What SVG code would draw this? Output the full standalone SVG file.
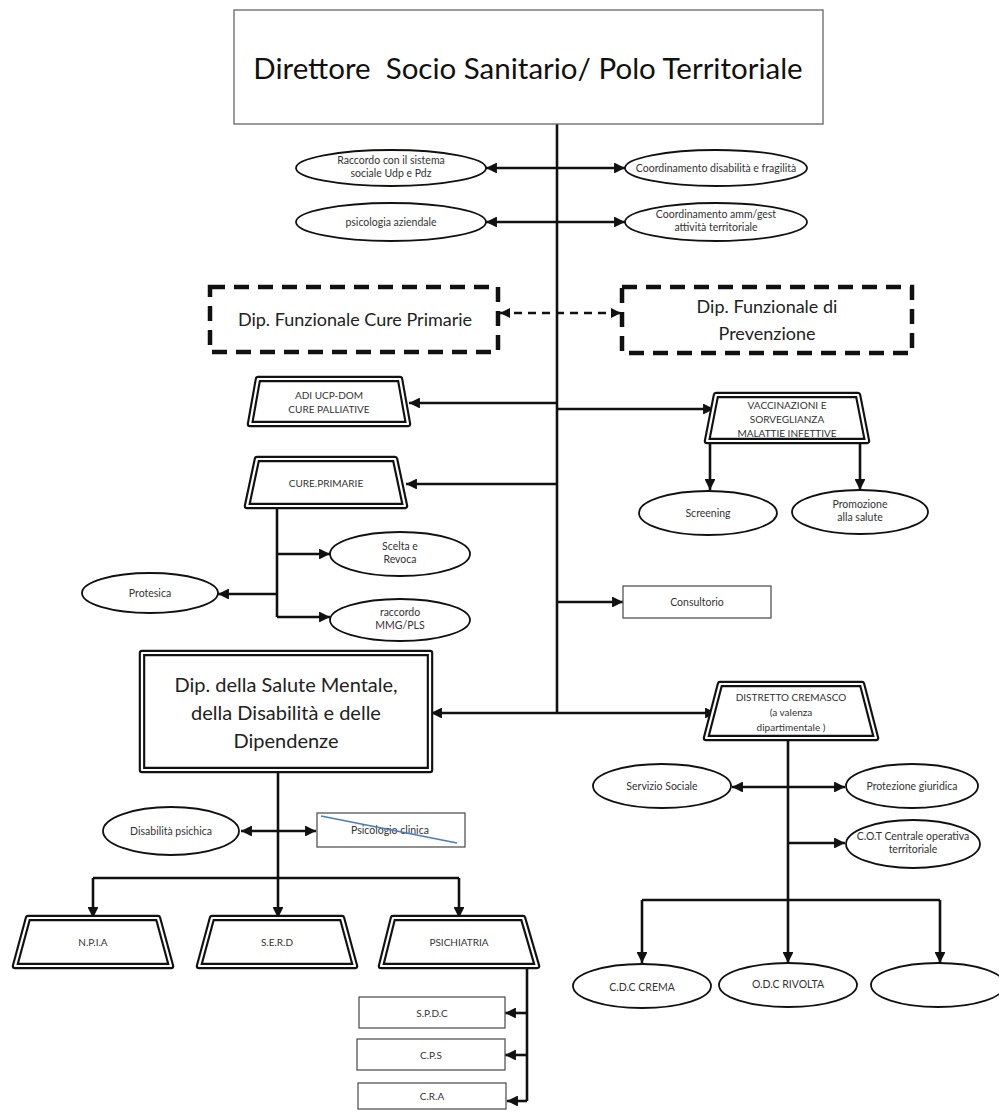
<svg xmlns="http://www.w3.org/2000/svg" width="999" height="1112" viewBox="0 0 999 1112">
<style>
text{font-family:Lato,"Open Sans","Liberation Sans",sans-serif;fill:#333;text-anchor:middle}
.t{font-size:29.5px;fill:#111;white-space:pre}
.s{font-size:10.5px}
.m{font-size:18px;fill:#222}
.l{font-size:20px;fill:#222}
.u{font-size:10px}
.el{fill:#fff;stroke:#111;stroke-width:1.8}
.bx{fill:#fff;stroke:#555;stroke-width:1.3}
.dash{fill:#fff;stroke:#111;stroke-width:4.5;stroke-dasharray:15 9}
.dblo{fill:#fff;stroke:#111;stroke-width:6.5;stroke-linejoin:round}
.dbli{fill:none;stroke:#fff;stroke-width:2.2;stroke-linejoin:round}
.c{fill:none;stroke:#111;stroke-width:2.6}
.cd{fill:none;stroke:#111;stroke-width:2.4;stroke-dasharray:8 6}
.ah{marker-end:url(#ah)}
.bi{marker-start:url(#ah);marker-end:url(#ah)}
</style>
<defs>
<marker id="ah" viewBox="0 0 10 10" refX="10" refY="5" markerWidth="4.2" markerHeight="4.2" orient="auto-start-reverse" markerUnits="strokeWidth"><path d="M0,0 L10,5 L0,10 z" fill="#111"/></marker>
</defs>

<g id="connectors">
<path class="c" d="M557,124 V713"/>
<path class="c bi" d="M486,168 H625"/>
<path class="c bi" d="M486,222 H625"/>
<path class="cd bi" d="M500,313 H621"/>
<path class="c ah" d="M557,403 H409"/>
<path class="c ah" d="M557,409 H714"/>
<path class="c ah" d="M710,441 V490"/>
<path class="c ah" d="M860,441 V490"/>
<path class="c ah" d="M557,484 H406"/>
<path class="c" d="M277,506 V617"/>
<path class="c ah" d="M277,554 H330"/>
<path class="c ah" d="M277,594 H218"/>
<path class="c ah" d="M277,617 H330"/>
<path class="c ah" d="M557,602 H623"/>
<path class="c ah" d="M557,713 H431"/>
<path class="c ah" d="M557,713 H716"/>
<path class="c ah" d="M278,770 V918"/>
<path class="c bi" d="M241,831 H316"/>
<path class="c" d="M93,878 H459"/>
<path class="c ah" d="M93,878 V918"/>
<path class="c ah" d="M459,878 V918"/>
<path class="c" d="M527,966 V1101"/>
<path class="c ah" d="M527,1013 H505"/>
<path class="c ah" d="M527,1055 H505"/>
<path class="c ah" d="M527,1101 H507"/>
<path class="c ah" d="M788,738 V963"/>
<path class="c bi" d="M732,787 H845"/>
<path class="c ah" d="M788,843 H845"/>
<path class="c" d="M642,900 H940"/>
<path class="c ah" d="M642,900 V963"/>
<path class="c ah" d="M940,900 V963"/>
</g>

<g id="n-direttore">
<rect x="234" y="10" width="589" height="114" fill="#fff" stroke="#666" stroke-width="1.3"/>
<text class="t" x="528" y="79" xml:space="preserve">Direttore  Socio Sanitario/ Polo Territoriale</text>
</g>

<g id="n-raccordo-sociale">
<ellipse class="el" cx="391" cy="168" rx="95" ry="18"/>
<text class="s" x="391" y="164">Raccordo con il sistema</text>
<text class="s" x="391" y="177">sociale Udp e Pdz</text>
</g>
<g id="n-coord-disabilita">
<ellipse class="el" cx="716" cy="168" rx="91" ry="18"/>
<text class="s" x="716" y="172">Coordinamento disabilità e fragilità</text>
</g>
<g id="n-psicologia-aziendale">
<ellipse class="el" cx="391" cy="222" rx="95" ry="19"/>
<text class="s" x="391" y="226">psicologia aziendale</text>
</g>
<g id="n-coord-amm">
<ellipse class="el" cx="716" cy="222" rx="91" ry="19"/>
<text class="s" x="716" y="218">Coordinamento amm/gest</text>
<text class="s" x="716" y="231">attività territoriale</text>
</g>

<g id="n-dip-cure-primarie">
<rect class="dash" x="210" y="287" width="288" height="65"/>
<text class="m" x="355" y="326">Dip. Funzionale Cure Primarie</text>
</g>
<g id="n-dip-prevenzione">
<rect class="dash" x="622" y="287" width="290" height="66"/>
<text class="m" x="767" y="313">Dip. Funzionale di</text>
<text class="m" x="767" y="340">Prevenzione</text>
</g>

<g id="n-adi">
<polygon class="dblo" points="258,379 400,379 408,424 250,424"/>
<polygon class="dbli" points="258,379 400,379 408,424 250,424"/>
<text class="u" x="329" y="399">ADI UCP-DOM</text>
<text class="u" x="329" y="413">CURE PALLIATIVE</text>
</g>
<g id="n-vaccinazioni">
<polygon class="dblo" points="716,395 858,395 867,441 707,441"/>
<polygon class="dbli" points="716,395 858,395 867,441 707,441"/>
<text class="u" x="787" y="409">VACCINAZIONI E</text>
<text class="u" x="787" y="423">SORVEGLIANZA</text>
<text class="u" x="787" y="437">MALATTIE INFETTIVE</text>
</g>
<g id="n-screening">
<ellipse class="el" cx="708" cy="513" rx="69" ry="22"/>
<text class="s" x="708" y="517">Screening</text>
</g>
<g id="n-promozione">
<ellipse class="el" cx="860" cy="512" rx="68" ry="22"/>
<text class="s" x="860" y="508">Promozione</text>
<text class="s" x="860" y="521">alla salute</text>
</g>

<g id="n-cure-primarie">
<polygon class="dblo" points="257,459 395,459 405,506 247,506"/>
<polygon class="dbli" points="257,459 395,459 405,506 247,506"/>
<text class="u" x="326" y="487">CURE.PRIMARIE</text>
</g>
<g id="n-scelta">
<ellipse class="el" cx="400" cy="554" rx="70" ry="22"/>
<text class="s" x="400" y="550">Scelta e</text>
<text class="s" x="400" y="563">Revoca</text>
</g>
<g id="n-protesica">
<ellipse class="el" cx="150" cy="593" rx="68" ry="20"/>
<text class="s" x="150" y="597">Protesica</text>
</g>
<g id="n-raccordo-mmg">
<ellipse class="el" cx="400" cy="620" rx="70" ry="21"/>
<text class="s" x="400" y="616">raccordo</text>
<text class="s" x="400" y="629">MMG/PLS</text>
</g>
<g id="n-consultorio">
<rect class="bx" x="623" y="586" width="148" height="32"/>
<text class="s" x="697" y="606">Consultorio</text>
</g>

<g id="n-dip-salute-mentale">
<rect class="dblo" x="142" y="653" width="288" height="117"/>
<rect class="dbli" x="142" y="653" width="288" height="117"/>
<text class="l" x="286" y="692">Dip. della Salute Mentale,</text>
<text class="l" x="286" y="720">della Disabilità e delle</text>
<text class="l" x="286" y="748">Dipendenze</text>
</g>
<g id="n-disabilita-psichica">
<ellipse class="el" cx="171" cy="831" rx="68" ry="24"/>
<text class="s" x="171" y="835">Disabilità psichica</text>
</g>
<g id="n-psicologio-clinica">
<rect class="bx" x="317" y="813" width="148" height="34"/>
<text class="s" x="390" y="834">Psicologio clinica</text>
<line x1="321" y1="816" x2="457" y2="843" stroke="#4a7cc4" stroke-width="1.5"/>
</g>
<g id="n-npia">
<polygon class="dblo" points="28,918 158,918 171,966 15,966"/>
<polygon class="dbli" points="28,918 158,918 171,966 15,966"/>
<text class="u" x="93" y="946">N.P.I.A</text>
</g>
<g id="n-serd">
<polygon class="dblo" points="212,918 342,918 355,966 199,966"/>
<polygon class="dbli" points="212,918 342,918 355,966 199,966"/>
<text class="u" x="277" y="946">S.E.R.D</text>
</g>
<g id="n-psichiatria">
<polygon class="dblo" points="393,918 523,918 537,966 381,966"/>
<polygon class="dbli" points="393,918 523,918 537,966 381,966"/>
<text class="u" x="459" y="946">PSICHIATRIA</text>
</g>
<g id="n-spdc">
<rect class="bx" x="359" y="997" width="146" height="31"/>
<text class="u" x="432" y="1017">S.P.D.C</text>
</g>
<g id="n-cps">
<rect class="bx" x="357" y="1039" width="148" height="31"/>
<text class="u" x="431" y="1059">C.P.S</text>
</g>
<g id="n-cra">
<rect class="bx" x="358" y="1083" width="148" height="26"/>
<text class="u" x="432" y="1100">C.R.A</text>
</g>

<g id="n-distretto">
<polygon class="dblo" points="720,684 862,684 876,738 706,738"/>
<polygon class="dbli" points="720,684 862,684 876,738 706,738"/>
<text class="u" x="791" y="701">DISTRETTO CREMASCO</text>
<text class="u" x="791" y="716">(a valenza</text>
<text class="u" x="791" y="731">dipartimentale )</text>
</g>
<g id="n-servizio-sociale">
<ellipse class="el" cx="662" cy="786" rx="69" ry="22"/>
<text class="s" x="662" y="790">Servizio Sociale</text>
</g>
<g id="n-protezione">
<ellipse class="el" cx="912" cy="786" rx="66" ry="22"/>
<text class="s" x="912" y="790">Protezione giuridica</text>
</g>
<g id="n-cot">
<ellipse class="el" cx="913" cy="844" rx="67" ry="24"/>
<text class="s" x="913" y="840">C.O.T Centrale operativa</text>
<text class="s" x="913" y="853">territoriale</text>
</g>
<g id="n-cdc">
<ellipse class="el" cx="642" cy="986" rx="69" ry="22"/>
<text class="s" x="642" y="991">C.D.C CREMA</text>
</g>
<g id="n-odc">
<ellipse class="el" cx="788" cy="985" rx="69" ry="22"/>
<text class="s" x="788" y="988">O.D.C RIVOLTA</text>
</g>
<g id="n-empty">
<ellipse class="el" cx="938" cy="985" rx="67" ry="22"/>
</g>
</svg>
